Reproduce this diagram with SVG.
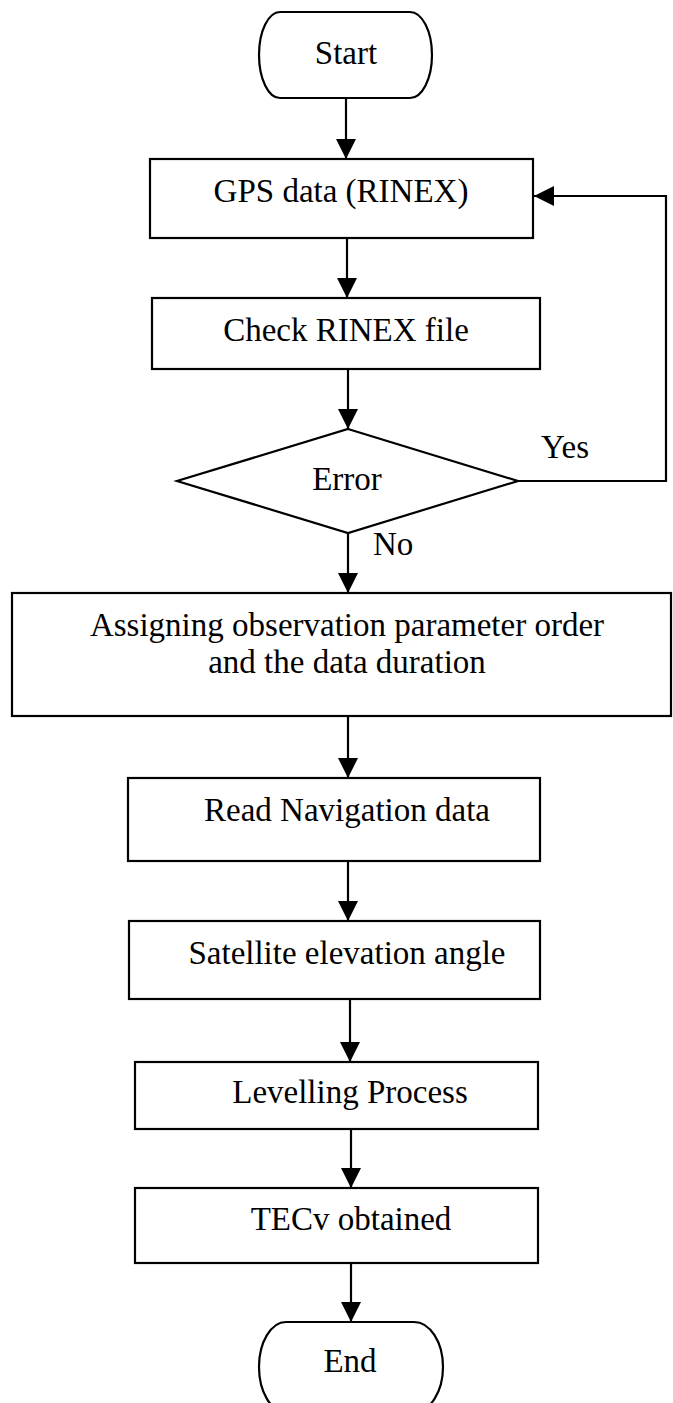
<svg xmlns="http://www.w3.org/2000/svg" width="673" height="1403" viewBox="0 0 673 1403">
<style>
.s{fill:#fff;stroke:#000;stroke-width:2.2}
.t{font-family:"Liberation Serif",serif;font-size:33px;fill:#000;text-anchor:middle}
.l{font-family:"Liberation Serif",serif;font-size:33px;fill:#000}
.c{fill:none;stroke:#000;stroke-width:2.2}
</style>
<defs>
<marker id="ah" viewBox="0 0 20 20" refX="20" refY="10" markerWidth="20" markerHeight="20" markerUnits="userSpaceOnUse" orient="auto">
<path d="M0,0 L20,10 L0,20 Z" fill="#000"/>
</marker>
</defs>
<rect width="673" height="1403" fill="#fff"/>
<g id="connectors">
<line class="c" x1="346" y1="98" x2="346" y2="159" marker-end="url(#ah)"/>
<line class="c" x1="347" y1="238" x2="347" y2="298" marker-end="url(#ah)"/>
<line class="c" x1="348" y1="369" x2="348" y2="429" marker-end="url(#ah)"/>
<line class="c" x1="348" y1="533" x2="348" y2="593" marker-end="url(#ah)"/>
<line class="c" x1="348" y1="716" x2="348" y2="778" marker-end="url(#ah)"/>
<line class="c" x1="348" y1="861" x2="348" y2="921" marker-end="url(#ah)"/>
<line class="c" x1="350" y1="999" x2="350" y2="1062" marker-end="url(#ah)"/>
<line class="c" x1="351" y1="1129" x2="351" y2="1188" marker-end="url(#ah)"/>
<line class="c" x1="351" y1="1263" x2="351" y2="1322" marker-end="url(#ah)"/>
<polyline class="c" points="518,481 666,481 666,196 534,196" marker-end="url(#ah)"/>
<text class="l" x="541" y="458">Yes</text>
<text class="l" x="373" y="555">No</text>
</g>
<g id="start">
<path class="s" d="M280,12 H410 A22,43 0 0 1 410,98 H280 A21,43 0 0 1 280,12 Z"/>
<text class="t" x="346" y="64">Start</text>
</g>
<g id="gps">
<rect class="s" x="150" y="159" width="383" height="79"/>
<text class="t" x="341" y="202">GPS data (RINEX)</text>
</g>
<g id="check">
<rect class="s" x="152" y="298" width="388" height="71"/>
<text class="t" x="346" y="341">Check RINEX file</text>
</g>
<g id="error">
<polygon class="s" points="348,429 518,481 348,533 177,481"/>
<text class="t" x="347" y="490">Error</text>
</g>
<g id="assign">
<rect class="s" x="12" y="593" width="659" height="123"/>
<text class="t" x="347" y="636">Assigning observation parameter order</text>
<text class="t" x="347" y="673">and the data duration</text>
</g>
<g id="read">
<rect class="s" x="128" y="778" width="412" height="83"/>
<text class="t" x="347" y="821">Read Navigation data</text>
</g>
<g id="satellite">
<rect class="s" x="129" y="921" width="411" height="78"/>
<text class="t" x="347" y="964">Satellite elevation angle</text>
</g>
<g id="levelling">
<rect class="s" x="135" y="1062" width="403" height="67"/>
<text class="t" x="350" y="1103">Levelling Process</text>
</g>
<g id="tecv">
<rect class="s" x="135" y="1188" width="403" height="75"/>
<text class="t" x="351" y="1230">TECv obtained</text>
</g>
<g id="end">
<path class="s" d="M286,1322 H414 A29,45 0 0 1 414,1412 H286 A27,45 0 0 1 286,1322 Z"/>
<text class="t" x="350" y="1372">End</text>
</g>
</svg>
